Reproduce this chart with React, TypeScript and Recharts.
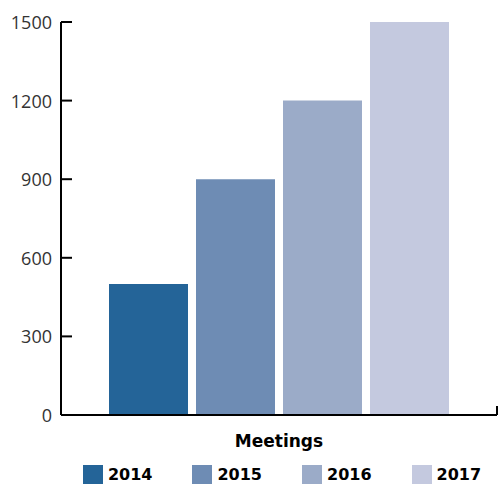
import { BarChart, Bar, XAxis, YAxis, Legend } from 'recharts';

const categories = ['Meetings'];
const years = ['2014', '2015', '2016', '2017'];
const values2014 = [500];
const values2015 = [900];
const values2016 = [1200];
const values2017 = [1500];
const yTicks = [0, 300, 600, 900, 1200, 1500];

const seriesValues = [values2014, values2015, values2016, values2017];
const colors = ['#246498', '#6e8cb4', '#9babc8', '#c4c9df'];

const data = categories.map((name, i) => {
  const row: Record<string, string | number> = { name };
  years.forEach((y, j) => {
    row[y] = seriesValues[j][i];
  });
  return row;
});

const YTick = ({ x, y, payload }: any) => (
  <g>
    <text
      x={x}
      y={y}
      textAnchor="end"
      dominantBaseline="central"
      fill="#333"
      fontSize={18}
      fontWeight={400}
      fontFamily="'Open Sans', sans-serif"
    >
      {payload.value}
    </text>
    <line x1={x + 9} x2={x + 20} y1={y} y2={y} stroke="#000" strokeWidth={2} />
  </g>
);

const XTick = ({ x, y, payload }: any) => {
  const half = payload.offset ?? 218;
  return (
    <g>
      <text
        x={x}
        y={y + 32}
        textAnchor="middle"
        fill="#000"
        fontSize={17}
        fontWeight={700}
        fontFamily="'DejaVu Sans', sans-serif"
      >
        {payload.value}
      </text>
      <line x1={x + half} x2={x + half} y1={y} y2={y - 9} stroke="#000" strokeWidth={2} />
    </g>
  );
};

const LegendContent = () => (
  <div style={{ display: 'flex', justifyContent: 'center', gap: 40, paddingLeft: 66 }}>
    {years.map((y, i) => (
      <div key={y} style={{ display: 'flex', alignItems: 'center', gap: 5 }}>
        <span style={{ width: 20, height: 19, background: colors[i], display: 'inline-block' }} />
        <span
          style={{
            fontFamily: "'DejaVu Sans', sans-serif",
            fontWeight: 700,
            fontSize: 16,
            lineHeight: '19px',
            color: '#000',
          }}
        >
          {y}
        </span>
      </div>
    ))}
  </div>
);

export default function App() {
  return (
    <div style={{ position: 'absolute', left: 0, top: 0, width: 498, height: 484, background: '#fff' }}>
      <BarChart
        width={498}
        height={484}
        data={data}
        margin={{ top: 22, right: 1, left: 0, bottom: 0 }}
        barCategoryGap={48}
        barGap={8}
      >
        <XAxis
          dataKey="name"
          axisLine={{ stroke: '#000', strokeWidth: 2 }}
          tickLine={false}
          tickSize={0}
          tickMargin={0}
          height={50}
          tick={<XTick />}
        />
        <YAxis
          domain={[0, 1500]}
          ticks={yTicks}
          width={61}
          axisLine={{ stroke: '#000', strokeWidth: 2 }}
          tickLine={false}
          tickSize={0}
          tickMargin={9}
          tick={<YTick />}
          interval={0}
        />
        <Legend
          verticalAlign="bottom"
          height={19}
          wrapperStyle={{ left: 0, width: 498, bottom: 0 }}
          content={<LegendContent />}
        />
        {years.map((y, i) => (
          <Bar key={y} dataKey={y} fill={colors[i]} isAnimationActive={false} />
        ))}
      </BarChart>
    </div>
  );
}
